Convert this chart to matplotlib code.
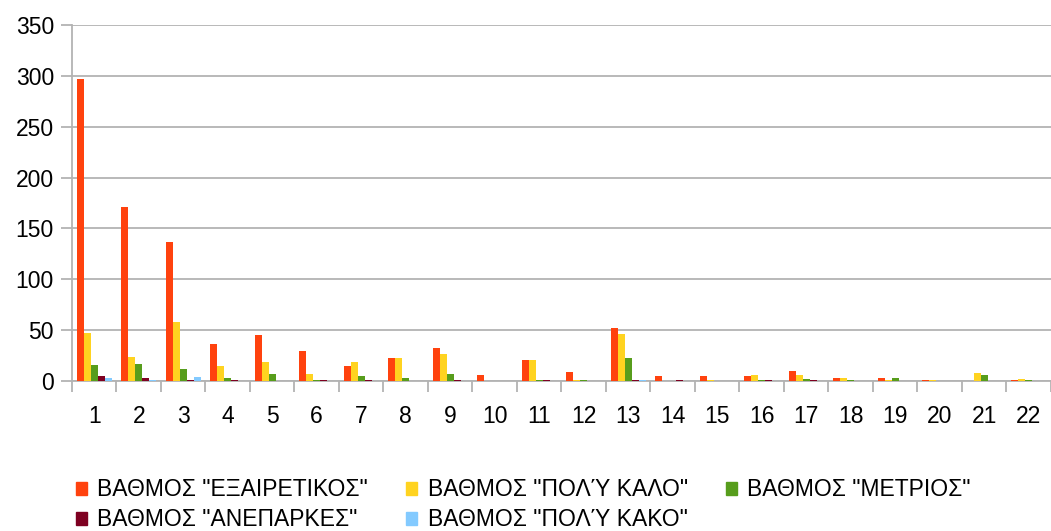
import numpy as np
import matplotlib.pyplot as plt
from matplotlib.patches import Patch

plt.rcParams['font.family'] = ['Liberation Sans', 'DejaVu Sans']

categories = [str(i) for i in range(1, 23)]

excellent = [297, 171, 137, 36, 45, 29, 15, 23, 32, 6, 21, 9, 52, 5, 5, 5, 10, 3, 3, 1, 0, 1]
very_good = [47, 24, 58, 15, 19, 7, 19, 23, 27, 0, 21, 1, 46, 0, 1, 6, 6, 3, 1, 1, 8, 2]
moderate = [16, 17, 12, 3, 7, 1, 5, 3, 7, 0, 1, 1, 23, 0, 0, 1, 2, 1, 3, 0, 6, 1]
insufficient = [5, 3, 1, 1, 0, 1, 1, 0, 1, 0, 1, 0, 1, 1, 0, 1, 1, 0, 0, 0, 0, 0]
very_bad = [3, 1, 4, 0, 0, 0, 0, 0, 0, 0, 0, 0, 1, 0, 0, 0, 0, 0, 0, 0, 0, 0]

series = [excellent, very_good, moderate, insufficient, very_bad]
labels = ['ΒΑΘΜΟΣ "ΕΞΑΙΡΕΤΙΚΟΣ"', 'ΒΑΘΜΟΣ "ΠΟΛΎ ΚΑΛΟ"', 'ΒΑΘΜΟΣ "ΜΕΤΡΙΟΣ"',
          'ΒΑΘΜΟΣ "ΑΝΕΠΑΡΚΕΣ"', 'ΒΑΘΜΟΣ "ΠΟΛΎ ΚΑΚΟ"']
colors = ['#FF420E', '#FFD320', '#579D1C', '#7E0021', '#83CAFF']

fig = plt.figure(figsize=(10.51, 5.31), dpi=100)
ax = fig.add_axes([0.0685, 0.2825, 0.9315, 0.6705])

x = np.arange(len(categories))
w = 0.157
for i, (vals, c) in enumerate(zip(series, colors)):
    ax.bar(x + (i - 2) * w, vals, width=w, color=c, zorder=3)

grey = '#b3b3b3'
ax.set_xlim(-0.5, len(categories) - 0.5)
ax.set_ylim(0, 350)
ax.set_yticks(range(0, 351, 50))
ax.yaxis.grid(True, color=grey, linewidth=1.3, zorder=0)
ax.set_xticks(x)
ax.set_xticklabels(categories)
ax.set_xticks(np.arange(-0.5, len(categories), 1), minor=True)
ax.tick_params(axis='x', which='major', length=0, pad=17, labelsize=16.5)
ax.tick_params(axis='x', which='minor', length=8, width=1.3, color=grey)
ax.tick_params(axis='y', length=8, width=1.3, color=grey, labelsize=16.5, pad=5)
for s in ['top', 'right']:
    ax.spines[s].set_visible(False)
for s in ['left', 'bottom']:
    ax.spines[s].set_color(grey)
    ax.spines[s].set_linewidth(1.3)

handles = [Patch(color=c, label=l) for c, l in zip(colors, labels)]
order = [0, 3, 1, 4, 2]
fig.legend([handles[i] for i in order], [labels[i] for i in order],
           ncol=3, loc='upper left', bbox_to_anchor=(0.072, 0.099),
           frameon=False, fontsize=16.5, handlelength=0.5, handleheight=0.5,
           handletextpad=0.45, columnspacing=1.65, labelspacing=0.3,
           borderaxespad=0, borderpad=0)

fig.savefig('out.png', dpi=100)
